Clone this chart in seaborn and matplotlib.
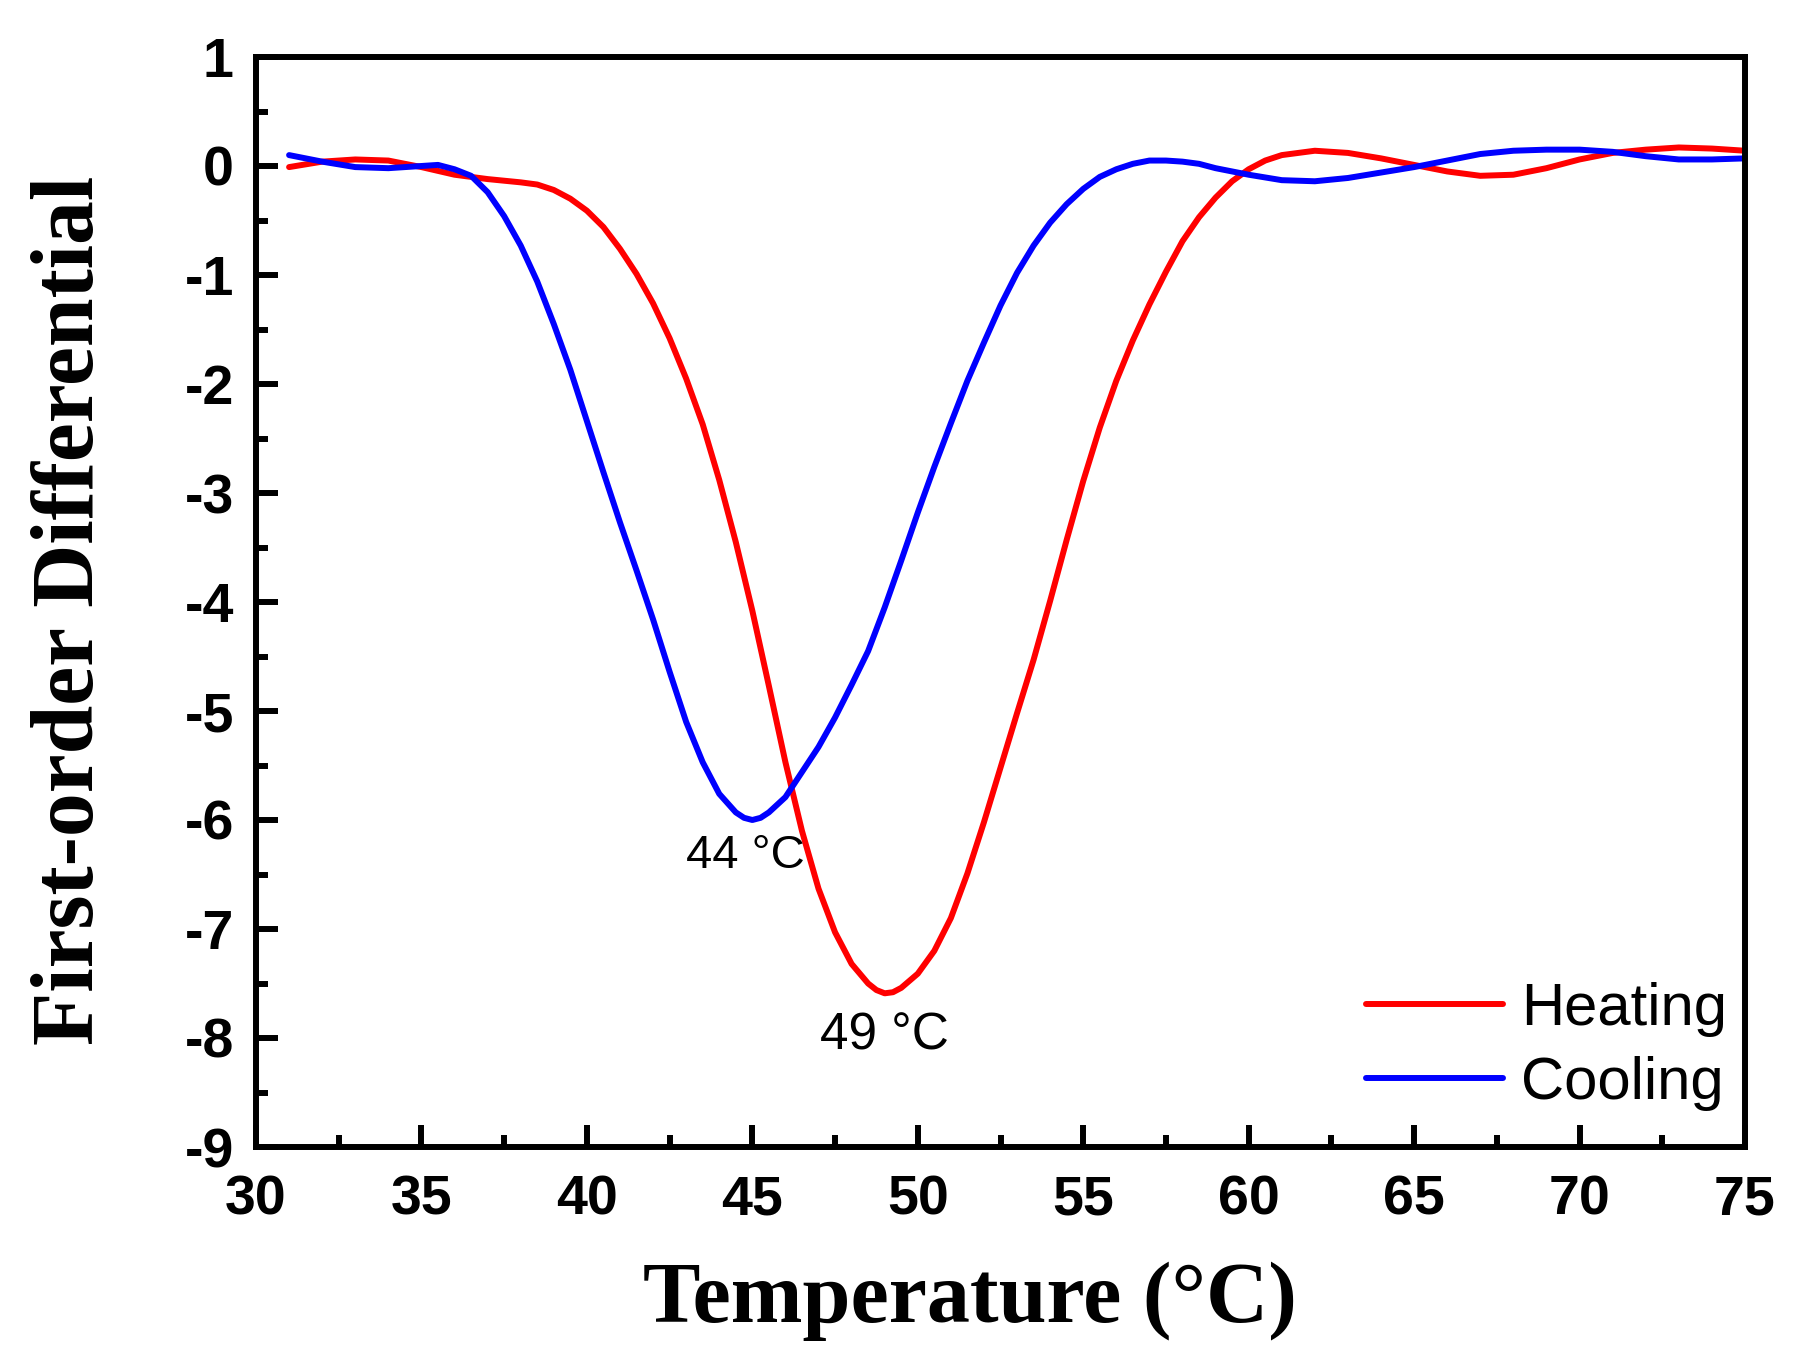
import numpy as np
import pandas as pd
import seaborn as sns
import matplotlib
matplotlib.use("Agg")
import matplotlib.pyplot as plt
from matplotlib.ticker import MultipleLocator

# heating curve
heat_t = [31, 32, 33, 34, 35, 36, 37, 38, 38.5, 39, 39.5, 40, 40.5, 41, 41.5, 42,
          42.5, 43, 43.5, 44, 44.5, 45, 45.5, 46, 46.5, 47, 47.5, 48, 48.5, 48.75,
          49, 49.25, 49.5, 50, 50.5, 51, 51.5, 52, 52.5, 53, 53.5, 54, 54.5, 55,
          55.5, 56, 56.5, 57, 57.5, 58, 58.5, 59, 59.5, 60, 60.5, 61, 62, 63, 64,
          65, 66, 67, 68, 69, 70, 71, 72, 73, 74, 75]
heat_d = [-0.01, 0.04, 0.06, 0.05, -0.01, -0.08, -0.12, -0.15, -0.17, -0.22, -0.30,
          -0.41, -0.56, -0.76, -0.99, -1.26, -1.58, -1.95, -2.37, -2.88, -3.45,
          -4.08, -4.77, -5.47, -6.10, -6.63, -7.03, -7.32, -7.50, -7.56, -7.59,
          -7.58, -7.54, -7.41, -7.20, -6.90, -6.49, -6.02, -5.52, -5.02, -4.53,
          -3.99, -3.43, -2.89, -2.40, -1.97, -1.60, -1.27, -0.97, -0.69, -0.47,
          -0.29, -0.14, -0.03, 0.05, 0.10, 0.14, 0.12, 0.07, 0.01, -0.05, -0.09,
          -0.08, -0.02, 0.06, 0.12, 0.15, 0.17, 0.16, 0.14]

# cooling curve
cool_t = [31, 32, 33, 34, 35, 35.5, 36, 36.5, 37, 37.5, 38, 38.5, 39, 39.5, 40,
          40.5, 41, 41.5, 42, 42.5, 43, 43.5, 44, 44.5, 44.75, 45, 45.25, 45.5,
          46, 46.5, 47, 47.5, 48, 48.5, 49, 49.5, 50, 50.5, 51, 51.5, 52, 52.5,
          53, 53.5, 54, 54.5, 55, 55.5, 56, 56.5, 57, 57.5, 58, 58.5, 59, 60, 61,
          62, 63, 64, 65, 66, 67, 68, 69, 70, 71, 72, 73, 74, 75]
cool_d = [0.10, 0.04, -0.01, -0.02, 0.00, 0.01, -0.03, -0.09, -0.24, -0.46, -0.73,
          -1.06, -1.45, -1.87, -2.34, -2.81, -3.27, -3.71, -4.16, -4.64, -5.10,
          -5.47, -5.76, -5.93, -5.98, -6.00, -5.98, -5.93, -5.79, -5.56, -5.33,
          -5.06, -4.76, -4.45, -4.05, -3.62, -3.18, -2.76, -2.36, -1.97, -1.62,
          -1.28, -0.98, -0.73, -0.52, -0.35, -0.21, -0.10, -0.03, 0.02, 0.05,
          0.05, 0.04, 0.02, -0.02, -0.08, -0.13, -0.14, -0.11, -0.06, -0.01, 0.05,
          0.11, 0.14, 0.15, 0.15, 0.13, 0.09, 0.06, 0.06, 0.07]

peak_labels = ["44 \u00b0C", "49 \u00b0C"]
peak_pos = [(44.78, -6.33), (49.0, -7.98)]

heat = pd.DataFrame({"T": heat_t, "d": heat_d})
cool = pd.DataFrame({"T": cool_t, "d": cool_d})

sns.set_style("ticks")
plt.rcParams["axes.unicode_minus"] = False
plt.rcParams["font.family"] = ["Liberation Sans", "DejaVu Sans"]
for k in ["text.color", "axes.labelcolor", "xtick.color", "ytick.color", "axes.edgecolor"]:
    plt.rcParams[k] = "black"

fig = plt.figure(figsize=(17.95, 13.65), dpi=100)
ax = fig.add_axes([256 / 1795, 1 - 1147 / 1365, (1745 - 256) / 1795, (1147 - 57) / 1365])

sns.lineplot(data=heat, x="T", y="d", color="#ff0000", linewidth=4.3, label="Heating", ax=ax)
sns.lineplot(data=cool, x="T", y="d", color="#0000ff", linewidth=4.3, label="Cooling", ax=ax)

ax.set_xlim(30, 75)
ax.set_ylim(-9, 1)
ax.xaxis.set_major_locator(MultipleLocator(5))
ax.xaxis.set_minor_locator(MultipleLocator(2.5))
ax.yaxis.set_major_locator(MultipleLocator(1))
ax.yaxis.set_minor_locator(MultipleLocator(0.5))
ax.tick_params(which="both", direction="in", width=4.3, top=False, right=False)
ax.tick_params(which="major", length=16)
ax.tick_params(which="minor", length=8.5)
ax.tick_params(axis="x", which="major", pad=20)
ax.tick_params(axis="y", which="major", pad=16)
for lab in ax.get_xticklabels() + ax.get_yticklabels():
    lab.set_fontsize(40)
    lab.set_fontweight("bold")
for sp in ax.spines.values():
    sp.set_linewidth(4.3)
    sp.set_color("black")

ax.set_xlabel("Temperature (\u00b0C)", fontsize=62, fontweight="bold",
              family=["Liberation Serif", "DejaVu Serif"])
ax.set_ylabel("First-order Differential", fontsize=63, fontweight="bold",
              family=["Liberation Serif", "DejaVu Serif"])
ax.xaxis.set_label_coords(0.4795, -0.105)
ax.yaxis.set_label_coords(-0.097, 0.492)

ax.text(*peak_pos[0], peak_labels[0], fontsize=34, ha="center", va="center")
ax.text(*peak_pos[1], peak_labels[1], fontsize=37, ha="center", va="center")

ax.legend(loc="lower right", bbox_to_anchor=(0.988, 0.033), frameon=False,
          fontsize=43, handlelength=2.3, handletextpad=0.3, labelspacing=0.32,
          borderpad=0, borderaxespad=0)

fig.savefig("out.png", dpi=100)
